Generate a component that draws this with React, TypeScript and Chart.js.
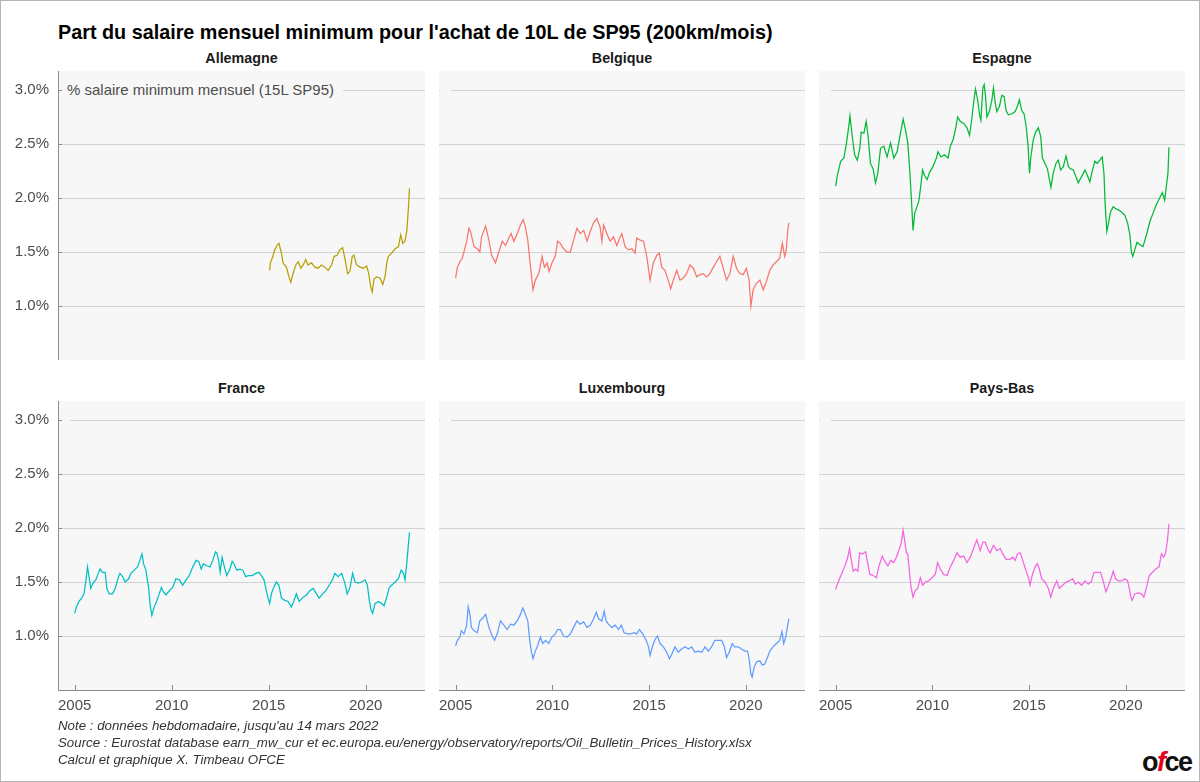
import React, { useEffect, useRef } from "react";
import { Chart, registerables } from "chart.js";

Chart.register(...registerables);

// ---------- data ----------
const countries = ["Allemagne", "Belgique", "Espagne", "France", "Luxembourg", "Pays-Bas"];
const colors = ["#B79F00", "#F8766D", "#00BA38", "#00BFC4", "#619CFF", "#F564E3"];
const yTicks = [1.0, 1.5, 2.0, 2.5, 3.0];
const xTicks = [2005, 2010, 2015, 2020];

const allemagne: number[][] = [
  [2015.05, 1.33], [2015.09, 1.40], [2015.22, 1.46], [2015.31, 1.52], [2015.43, 1.56], [2015.53, 1.58],
  [2015.66, 1.49], [2015.74, 1.40], [2015.91, 1.36], [2016.05, 1.27], [2016.14, 1.22], [2016.26, 1.30],
  [2016.40, 1.38], [2016.52, 1.41], [2016.66, 1.35], [2016.78, 1.38], [2016.91, 1.43], [2017.03, 1.38],
  [2017.21, 1.40], [2017.38, 1.36], [2017.55, 1.35], [2017.72, 1.38], [2017.90, 1.36], [2018.07, 1.33],
  [2018.24, 1.38], [2018.38, 1.46], [2018.53, 1.47], [2018.67, 1.52], [2018.81, 1.54], [2018.93, 1.44],
  [2019.07, 1.30], [2019.19, 1.32], [2019.31, 1.46], [2019.40, 1.47], [2019.53, 1.38], [2019.71, 1.36],
  [2019.88, 1.35], [2020.05, 1.37], [2020.16, 1.30], [2020.26, 1.18], [2020.34, 1.13], [2020.43, 1.25],
  [2020.57, 1.27], [2020.74, 1.26], [2020.88, 1.20], [2021.00, 1.27], [2021.09, 1.40], [2021.17, 1.46],
  [2021.34, 1.49], [2021.52, 1.53], [2021.69, 1.55], [2021.81, 1.66], [2021.91, 1.58], [2022.03, 1.60],
  [2022.12, 1.69], [2022.21, 1.92], [2022.26, 2.09],
];

const belgique: number[][] = [
  [2005.00, 1.26], [2005.09, 1.36], [2005.22, 1.41], [2005.34, 1.44], [2005.43, 1.50], [2005.57, 1.60],
  [2005.69, 1.72], [2005.77, 1.69], [2005.95, 1.55], [2006.12, 1.53], [2006.25, 1.50], [2006.34, 1.64],
  [2006.55, 1.74], [2006.72, 1.61], [2006.86, 1.47], [2007.06, 1.40], [2007.23, 1.50], [2007.41, 1.60],
  [2007.58, 1.56], [2007.75, 1.63], [2007.87, 1.67], [2008.01, 1.60], [2008.18, 1.67], [2008.35, 1.75],
  [2008.49, 1.80], [2008.61, 1.73], [2008.73, 1.61], [2008.83, 1.43], [2009.00, 1.15], [2009.12, 1.24],
  [2009.30, 1.30], [2009.47, 1.46], [2009.59, 1.36], [2009.73, 1.40], [2009.83, 1.32], [2009.98, 1.40],
  [2010.15, 1.46], [2010.27, 1.60], [2010.41, 1.58], [2010.58, 1.53], [2010.76, 1.50], [2010.93, 1.50],
  [2011.10, 1.61], [2011.27, 1.72], [2011.44, 1.67], [2011.62, 1.70], [2011.79, 1.60], [2011.96, 1.69],
  [2012.13, 1.77], [2012.30, 1.81], [2012.47, 1.73], [2012.56, 1.60], [2012.65, 1.75], [2012.82, 1.67],
  [2012.99, 1.60], [2013.16, 1.64], [2013.33, 1.56], [2013.51, 1.64], [2013.59, 1.67], [2013.76, 1.55],
  [2013.93, 1.52], [2014.11, 1.53], [2014.28, 1.49], [2014.36, 1.63], [2014.54, 1.61], [2014.71, 1.60],
  [2014.88, 1.46], [2015.05, 1.24], [2015.22, 1.40], [2015.40, 1.47], [2015.53, 1.49], [2015.65, 1.36],
  [2015.82, 1.33], [2016.00, 1.23], [2016.12, 1.16], [2016.25, 1.24], [2016.43, 1.33], [2016.60, 1.24],
  [2016.77, 1.26], [2016.94, 1.30], [2017.11, 1.38], [2017.29, 1.35], [2017.46, 1.27], [2017.63, 1.29],
  [2017.80, 1.30], [2017.97, 1.27], [2018.14, 1.30], [2018.32, 1.36], [2018.49, 1.41], [2018.66, 1.46],
  [2018.83, 1.35], [2019.00, 1.24], [2019.18, 1.30], [2019.35, 1.46], [2019.52, 1.35], [2019.69, 1.30],
  [2019.86, 1.29], [2020.03, 1.35], [2020.17, 1.24], [2020.26, 1.00], [2020.38, 1.15], [2020.55, 1.21],
  [2020.73, 1.24], [2020.90, 1.15], [2021.07, 1.23], [2021.24, 1.33], [2021.41, 1.38], [2021.58, 1.41],
  [2021.75, 1.44], [2021.89, 1.58], [2022.01, 1.46], [2022.09, 1.52], [2022.18, 1.72], [2022.23, 1.77],
];

const espagne: number[][] = [
  [2005.00, 2.11], [2005.09, 2.21], [2005.26, 2.34], [2005.43, 2.37], [2005.57, 2.52], [2005.69, 2.68],
  [2005.74, 2.76], [2005.86, 2.57], [2005.98, 2.40], [2006.12, 2.35], [2006.25, 2.46], [2006.32, 2.61],
  [2006.46, 2.60], [2006.58, 2.71], [2006.68, 2.57], [2006.80, 2.32], [2006.94, 2.27], [2007.06, 2.14],
  [2007.18, 2.23], [2007.32, 2.46], [2007.49, 2.48], [2007.66, 2.38], [2007.84, 2.51], [2008.01, 2.37],
  [2008.18, 2.43], [2008.35, 2.60], [2008.49, 2.73], [2008.61, 2.63], [2008.73, 2.51], [2008.83, 2.26],
  [2008.92, 1.98], [2009.00, 1.70], [2009.09, 1.86], [2009.21, 1.92], [2009.31, 1.98], [2009.42, 2.14],
  [2009.49, 2.26], [2009.59, 2.21], [2009.73, 2.17], [2009.86, 2.24], [2010.03, 2.29], [2010.21, 2.37],
  [2010.29, 2.43], [2010.45, 2.38], [2010.62, 2.40], [2010.81, 2.37], [2010.93, 2.48], [2011.07, 2.54],
  [2011.19, 2.63], [2011.31, 2.75], [2011.44, 2.71], [2011.62, 2.69], [2011.79, 2.65], [2011.92, 2.58],
  [2012.03, 2.72], [2012.13, 2.88], [2012.23, 3.01], [2012.34, 2.91], [2012.44, 2.77], [2012.51, 2.72],
  [2012.61, 3.02], [2012.68, 3.05], [2012.75, 2.94], [2012.82, 2.75], [2012.96, 2.81], [2013.08, 2.91],
  [2013.16, 3.02], [2013.25, 2.88], [2013.33, 2.80], [2013.47, 2.85], [2013.59, 2.95], [2013.71, 2.94],
  [2013.81, 2.81], [2013.93, 2.77], [2014.11, 2.78], [2014.28, 2.80], [2014.40, 2.85], [2014.50, 2.91],
  [2014.62, 2.81], [2014.74, 2.78], [2014.85, 2.66], [2014.95, 2.48], [2015.02, 2.23], [2015.09, 2.38],
  [2015.22, 2.54], [2015.34, 2.61], [2015.48, 2.65], [2015.60, 2.57], [2015.69, 2.37], [2015.82, 2.32],
  [2015.95, 2.27], [2016.05, 2.17], [2016.13, 2.10], [2016.25, 2.23], [2016.39, 2.32], [2016.51, 2.35],
  [2016.63, 2.26], [2016.77, 2.29], [2016.91, 2.39], [2017.03, 2.29], [2017.15, 2.27], [2017.29, 2.26],
  [2017.42, 2.20], [2017.54, 2.14], [2017.72, 2.20], [2017.89, 2.26], [2018.01, 2.21], [2018.14, 2.15],
  [2018.28, 2.26], [2018.40, 2.34], [2018.52, 2.32], [2018.66, 2.35], [2018.78, 2.38], [2018.87, 2.23],
  [2018.93, 1.95], [2019.02, 1.69], [2019.11, 1.77], [2019.21, 1.87], [2019.35, 1.92], [2019.48, 1.90],
  [2019.62, 1.89], [2019.78, 1.87], [2019.95, 1.84], [2020.09, 1.77], [2020.21, 1.66], [2020.29, 1.50],
  [2020.36, 1.46], [2020.46, 1.52], [2020.58, 1.59], [2020.72, 1.57], [2020.89, 1.55], [2021.07, 1.66],
  [2021.24, 1.78], [2021.41, 1.86], [2021.58, 1.94], [2021.75, 2.00], [2021.89, 2.05], [2022.01, 1.98],
  [2022.09, 2.10], [2022.18, 2.23], [2022.23, 2.47],
];

const france: number[][] = [
  [2005.00, 1.21], [2005.09, 1.27], [2005.22, 1.32], [2005.36, 1.35], [2005.48, 1.39], [2005.57, 1.50],
  [2005.66, 1.64], [2005.74, 1.55], [2005.83, 1.44], [2005.95, 1.49], [2006.09, 1.52], [2006.22, 1.58],
  [2006.31, 1.62], [2006.43, 1.59], [2006.57, 1.59], [2006.66, 1.44], [2006.78, 1.39], [2006.95, 1.39],
  [2007.09, 1.44], [2007.21, 1.52], [2007.33, 1.58], [2007.47, 1.55], [2007.60, 1.50], [2007.78, 1.53],
  [2007.90, 1.58], [2008.07, 1.61], [2008.24, 1.64], [2008.36, 1.70], [2008.47, 1.76], [2008.55, 1.67],
  [2008.67, 1.61], [2008.81, 1.45], [2008.90, 1.27], [2008.98, 1.19], [2009.10, 1.27], [2009.22, 1.32],
  [2009.36, 1.39], [2009.47, 1.45], [2009.57, 1.41], [2009.71, 1.38], [2009.88, 1.42], [2010.05, 1.45],
  [2010.22, 1.53], [2010.40, 1.52], [2010.57, 1.47], [2010.74, 1.52], [2010.91, 1.56], [2011.09, 1.64],
  [2011.26, 1.70], [2011.40, 1.69], [2011.52, 1.62], [2011.64, 1.67], [2011.81, 1.65], [2011.98, 1.64],
  [2012.12, 1.70], [2012.26, 1.78], [2012.33, 1.77], [2012.43, 1.69], [2012.50, 1.59], [2012.60, 1.73],
  [2012.72, 1.64], [2012.84, 1.56], [2012.98, 1.61], [2013.12, 1.69], [2013.24, 1.66], [2013.36, 1.61],
  [2013.53, 1.62], [2013.67, 1.61], [2013.81, 1.55], [2013.98, 1.56], [2014.16, 1.56], [2014.33, 1.58],
  [2014.50, 1.59], [2014.62, 1.56], [2014.76, 1.52], [2014.88, 1.42], [2014.97, 1.35], [2015.05, 1.30],
  [2015.14, 1.39], [2015.26, 1.45], [2015.40, 1.50], [2015.53, 1.47], [2015.66, 1.35], [2015.83, 1.33],
  [2016.00, 1.32], [2016.17, 1.27], [2016.29, 1.32], [2016.43, 1.39], [2016.57, 1.32], [2016.78, 1.36],
  [2016.95, 1.38], [2017.12, 1.42], [2017.29, 1.44], [2017.47, 1.39], [2017.60, 1.35], [2017.78, 1.39],
  [2017.95, 1.42], [2018.12, 1.47], [2018.29, 1.52], [2018.41, 1.58], [2018.59, 1.55], [2018.76, 1.58],
  [2018.93, 1.49], [2019.05, 1.39], [2019.19, 1.45], [2019.33, 1.58], [2019.45, 1.50], [2019.62, 1.49],
  [2019.79, 1.50], [2019.97, 1.52], [2020.09, 1.47], [2020.19, 1.33], [2020.28, 1.24], [2020.36, 1.21],
  [2020.48, 1.30], [2020.66, 1.32], [2020.83, 1.30], [2020.95, 1.28], [2021.09, 1.36], [2021.22, 1.45],
  [2021.34, 1.47], [2021.52, 1.50], [2021.69, 1.53], [2021.83, 1.61], [2021.95, 1.58], [2022.03, 1.52],
  [2022.12, 1.67], [2022.21, 1.86], [2022.26, 1.96],
];

const luxembourg: number[][] = [
  [2005.00, 0.91], [2005.09, 0.96], [2005.22, 0.99], [2005.29, 1.05], [2005.43, 1.02], [2005.57, 1.10],
  [2005.65, 1.27], [2005.74, 1.20], [2005.81, 1.08], [2005.95, 1.05], [2006.12, 1.03], [2006.25, 1.14],
  [2006.37, 1.16], [2006.55, 1.20], [2006.72, 1.08], [2006.89, 1.00], [2007.01, 0.96], [2007.15, 1.02],
  [2007.32, 1.14], [2007.49, 1.10], [2007.66, 1.06], [2007.84, 1.11], [2008.01, 1.10], [2008.18, 1.14],
  [2008.35, 1.20], [2008.47, 1.26], [2008.61, 1.20], [2008.73, 1.14], [2008.83, 0.96], [2008.92, 0.85],
  [2009.00, 0.79], [2009.12, 0.86], [2009.24, 0.91], [2009.38, 0.99], [2009.50, 0.93], [2009.64, 0.96],
  [2009.81, 0.93], [2009.98, 0.99], [2010.15, 1.02], [2010.27, 1.06], [2010.41, 1.06], [2010.58, 1.00],
  [2010.76, 0.99], [2010.93, 1.02], [2011.10, 1.08], [2011.27, 1.14], [2011.44, 1.11], [2011.62, 1.13],
  [2011.79, 1.08], [2011.96, 1.10], [2012.13, 1.16], [2012.27, 1.22], [2012.39, 1.16], [2012.56, 1.14],
  [2012.68, 1.23], [2012.78, 1.14], [2012.90, 1.11], [2013.08, 1.08], [2013.25, 1.10], [2013.42, 1.06],
  [2013.56, 1.10], [2013.71, 1.03], [2013.88, 1.02], [2014.06, 1.02], [2014.23, 1.03], [2014.36, 1.02],
  [2014.50, 1.06], [2014.67, 1.02], [2014.85, 0.96], [2014.97, 0.90], [2015.05, 0.82], [2015.17, 0.90],
  [2015.31, 0.97], [2015.43, 1.00], [2015.57, 0.93], [2015.74, 0.90], [2015.91, 0.85], [2016.05, 0.79],
  [2016.17, 0.83], [2016.34, 0.90], [2016.51, 0.85], [2016.68, 0.88], [2016.86, 0.90], [2017.03, 0.88],
  [2017.20, 0.90], [2017.37, 0.85], [2017.54, 0.86], [2017.72, 0.85], [2017.89, 0.90], [2018.06, 0.86],
  [2018.23, 0.90], [2018.40, 0.96], [2018.57, 0.96], [2018.75, 0.96], [2018.88, 0.91], [2019.00, 0.80],
  [2019.14, 0.85], [2019.30, 0.93], [2019.43, 0.90], [2019.61, 0.90], [2019.78, 0.88], [2019.95, 0.86],
  [2020.09, 0.86], [2020.17, 0.79], [2020.26, 0.65], [2020.33, 0.62], [2020.43, 0.71], [2020.55, 0.76],
  [2020.72, 0.77], [2020.86, 0.73], [2020.98, 0.74], [2021.12, 0.80], [2021.24, 0.86], [2021.41, 0.90],
  [2021.58, 0.93], [2021.75, 0.96], [2021.87, 1.04], [2021.96, 0.93], [2022.06, 0.99], [2022.15, 1.08],
  [2022.23, 1.16],
];

const paysBas: number[][] = [
  [2005.00, 1.43], [2005.09, 1.48], [2005.22, 1.54], [2005.34, 1.59], [2005.46, 1.64], [2005.60, 1.71],
  [2005.72, 1.81], [2005.81, 1.70], [2005.91, 1.60], [2006.03, 1.62], [2006.15, 1.60], [2006.24, 1.77],
  [2006.37, 1.76], [2006.55, 1.78], [2006.63, 1.70], [2006.77, 1.57], [2006.94, 1.56], [2007.11, 1.54],
  [2007.23, 1.64], [2007.41, 1.74], [2007.58, 1.68], [2007.70, 1.65], [2007.84, 1.70], [2008.01, 1.68],
  [2008.14, 1.73], [2008.26, 1.79], [2008.38, 1.85], [2008.49, 1.98], [2008.57, 1.88], [2008.66, 1.77],
  [2008.73, 1.76], [2008.81, 1.60], [2008.90, 1.45], [2009.00, 1.36], [2009.12, 1.42], [2009.24, 1.44],
  [2009.38, 1.54], [2009.50, 1.47], [2009.64, 1.50], [2009.81, 1.51], [2009.98, 1.54], [2010.15, 1.57],
  [2010.27, 1.68], [2010.41, 1.62], [2010.58, 1.57], [2010.76, 1.56], [2010.93, 1.64], [2011.10, 1.70],
  [2011.27, 1.77], [2011.44, 1.73], [2011.62, 1.74], [2011.79, 1.68], [2011.96, 1.73], [2012.13, 1.81],
  [2012.30, 1.89], [2012.47, 1.79], [2012.61, 1.87], [2012.73, 1.87], [2012.85, 1.81], [2012.99, 1.77],
  [2013.16, 1.84], [2013.33, 1.79], [2013.51, 1.81], [2013.64, 1.76], [2013.81, 1.71], [2013.99, 1.71],
  [2014.16, 1.73], [2014.28, 1.70], [2014.40, 1.76], [2014.54, 1.77], [2014.67, 1.70], [2014.85, 1.60],
  [2014.97, 1.54], [2015.05, 1.47], [2015.17, 1.57], [2015.31, 1.64], [2015.43, 1.67], [2015.53, 1.62],
  [2015.65, 1.53], [2015.82, 1.50], [2016.00, 1.44], [2016.12, 1.36], [2016.25, 1.44], [2016.43, 1.51],
  [2016.56, 1.44], [2016.74, 1.47], [2016.91, 1.50], [2017.08, 1.51], [2017.25, 1.53], [2017.39, 1.48],
  [2017.54, 1.50], [2017.72, 1.47], [2017.89, 1.51], [2018.06, 1.48], [2018.23, 1.51], [2018.35, 1.59],
  [2018.52, 1.59], [2018.69, 1.59], [2018.83, 1.51], [2018.97, 1.41], [2019.11, 1.47], [2019.25, 1.54],
  [2019.35, 1.60], [2019.47, 1.53], [2019.61, 1.51], [2019.78, 1.51], [2019.95, 1.53], [2020.09, 1.51],
  [2020.17, 1.45], [2020.26, 1.36], [2020.33, 1.33], [2020.46, 1.39], [2020.64, 1.40], [2020.81, 1.39],
  [2020.93, 1.36], [2021.07, 1.45], [2021.21, 1.56], [2021.38, 1.59], [2021.55, 1.62], [2021.72, 1.64],
  [2021.84, 1.76], [2021.96, 1.73], [2022.06, 1.77], [2022.15, 1.88], [2022.23, 2.04],
];

const series = [allemagne, belgique, espagne, france, luxembourg, paysBas];

const title = "Part du salaire mensuel minimum pour l'achat de 10L de SP95 (200km/mois)";
const yLabel = "% salaire minimum mensuel (15L SP95)";
const notes = [
  "Note : données hebdomadaire, jusqu'au 14 mars 2022",
  "Source : Eurostat database earn_mw_cur et ec.europa.eu/energy/observatory/reports/Oil_Bulletin_Prices_History.xlsx",
  "Calcul et graphique X. Timbeau OFCE",
];

// ---------- layout / style ----------
const FONT = "'Liberation Sans', Arial, Helvetica, sans-serif";
const X_MIN = 2004.14;
const X_MAX = 2023.06;
const Y_MIN = 0.5;
const Y_MAX = 3.176;
const PANEL_BG = "#f7f7f7";
const GRID = "#d2d2d2";
const AXIS = "#8c8c8c";
const TEXT = "#4d4d4d";

const colLeft = [58, 439, 819];
const colWidth = [367, 366, 366];
const rowTop = [71, 401];
const plotH = 289;
const xAxisH = 30;

type PanelProps = { idx: number };

function zeroPad(s: any) {
  s.paddingLeft = 0;
  s.paddingRight = 0;
  s.paddingTop = 0;
  s.paddingBottom = 0;
}

function Panel({ idx }: PanelProps) {
  const ref = useRef<HTMLCanvasElement | null>(null);
  const row = Math.floor(idx / 3);
  const col = idx % 3;
  const canvasLeft = col === 0 ? 0 : colLeft[col];
  const canvasW = col === 0 ? colLeft[0] + colWidth[0] : colWidth[col];
  const canvasH = row === 1 ? plotH + xAxisH : plotH;

  useEffect(() => {
    if (!ref.current) return;
    const panelPlugin = {
      id: "panelDeco",
      beforeDraw(chart: any) {
        const { ctx, chartArea } = chart;
        ctx.save();
        ctx.fillStyle = PANEL_BG;
        ctx.fillRect(chartArea.left, chartArea.top, chartArea.right - chartArea.left, chartArea.bottom - chartArea.top);
        ctx.restore();
      },
      beforeDatasetsDraw(chart: any) {
        const { ctx, chartArea, scales } = chart;
        const y = scales.y.getPixelForValue(yTicks[yTicks.length - 1]);
        ctx.save();
        ctx.fillStyle = PANEL_BG;
        ctx.fillRect(chartArea.left + 1, y - 2, 11, 4);
        ctx.restore();
      },
      afterDraw(chart: any) {
        const { ctx, chartArea, scales } = chart;
        ctx.save();
        ctx.strokeStyle = AXIS;
        ctx.lineWidth = 1;
        ctx.beginPath();
        if (row === 1) {
          for (const v of xTicks) {
            const x = Math.round(scales.x.getPixelForValue(v)) + 0.5;
            ctx.moveTo(x, chartArea.bottom);
            ctx.lineTo(x, chartArea.bottom - 5);
          }
        }
        if (col === 0) {
          for (const v of yTicks) {
            const y = Math.round(scales.y.getPixelForValue(v)) + 0.5;
            ctx.moveTo(chartArea.left, y);
            ctx.lineTo(chartArea.left + 4, y);
          }
        }
        ctx.stroke();
        ctx.restore();
      },
    };

    const chart = new Chart(ref.current, {
      type: "line",
      data: {
        datasets: [
          {
            data: series[idx].map(([x, y]) => ({ x, y })),
            borderColor: colors[idx],
            borderWidth: 1.25,
            pointRadius: 0,
            tension: 0,
            fill: false,
          },
        ],
      },
      options: {
        animation: false,
        responsive: false,
        maintainAspectRatio: false,
        events: [],
        layout: { padding: 0 },
        plugins: { legend: { display: false }, tooltip: { enabled: false } },
        scales: {
          x: {
            type: "linear",
            min: X_MIN,
            max: X_MAX,
            display: row === 1,
            grid: { display: false, drawTicks: false },
            border: { display: true, color: AXIS, width: 1 },
            ticks: {
              font: { family: FONT, size: 15 },
              color: TEXT,
              padding: 7,
              maxRotation: 0,
              autoSkip: false,
              callback: (v: any) => String(v),
            },
            afterBuildTicks: (s: any) => {
              s.ticks = xTicks.map((v) => ({ value: v }));
            },
            afterFit: (s: any) => {
              s.height = row === 1 ? xAxisH : 0;
              zeroPad(s);
            },
          },
          y: {
            type: "linear",
            min: Y_MIN,
            max: Y_MAX,
            grid: { color: GRID, lineWidth: 1, drawTicks: false },
            border: { display: col === 0, color: AXIS, width: 1 },
            ticks: {
              display: col === 0,
              font: { family: FONT, size: 15 },
              color: TEXT,
              padding: 9,
              callback: (v: any) => Number(v).toFixed(1) + "%",
            },
            afterBuildTicks: (s: any) => {
              s.ticks = yTicks.map((v) => ({ value: v }));
            },
            afterFit: (s: any) => {
              s.width = col === 0 ? colLeft[0] : 0;
              zeroPad(s);
            },
          },
        },
      } as any,
      plugins: [panelPlugin],
    });
    return () => chart.destroy();
  }, [idx]);

  return (
    <>
      <div
        style={{
          position: "absolute",
          left: colLeft[col],
          width: colWidth[col],
          top: rowTop[row] - 21,
          height: 16,
          lineHeight: "16px",
          textAlign: "center",
          fontFamily: FONT,
          fontWeight: "bold",
          fontSize: 14.3,
          color: "#1a1a1a",
        }}
      >
        {countries[idx]}
      </div>
      <canvas
        ref={ref}
        width={canvasW}
        height={canvasH}
        style={{ position: "absolute", left: canvasLeft, top: rowTop[row], width: canvasW, height: canvasH }}
      />
    </>
  );
}

export default function App() {
  return (
    <div style={{ position: "relative", width: 1200, height: 782, background: "#ffffff", overflow: "hidden" }}>
      <style>{"body{margin:0;}"}</style>
      <div
        style={{
          position: "absolute",
          left: 58,
          top: 21,
          fontFamily: FONT,
          fontWeight: "bold",
          fontSize: 19.8,
          lineHeight: "23px",
          color: "#000",
          whiteSpace: "nowrap",
        }}
      >
        {title}
      </div>
      {[0, 1, 2, 3, 4, 5].map((i) => (
        <Panel key={i} idx={i} />
      ))}
      <div
        style={{
          position: "absolute",
          left: 62,
          top: 81,
          height: 18,
          lineHeight: "18px",
          padding: "0 9px 0 5px",
          background: PANEL_BG,
          fontFamily: FONT,
          fontSize: 15,
          color: TEXT,
          whiteSpace: "nowrap",
          zIndex: 2,
        }}
      >
        {yLabel}
      </div>
      <div style={{ position: "absolute", left: 58, top: 717, fontFamily: FONT, fontStyle: "italic", fontSize: 13.3, lineHeight: "17px", color: "#333" }}>
        {notes.map((n, i) => (
          <div key={i} style={{ whiteSpace: "nowrap" }}>
            {n}
          </div>
        ))}
      </div>
      <div
        style={{
          position: "absolute",
          left: 1142,
          top: 748,
          fontFamily: FONT,
          fontWeight: "bold",
          fontSize: 27,
          lineHeight: "28px",
          letterSpacing: "-1.5px",
          color: "#111",
          whiteSpace: "nowrap",
        }}
      >
        o<span style={{ color: "#e3001b", fontStyle: "italic" }}>f</span>ce
      </div>
      <div
        style={{
          position: "absolute",
          left: 0,
          top: 0,
          width: 1200,
          height: 782,
          boxSizing: "border-box",
          border: "1px solid #b5b5b5",
          pointerEvents: "none",
          zIndex: 5,
        }}
      />
    </div>
  );
}
